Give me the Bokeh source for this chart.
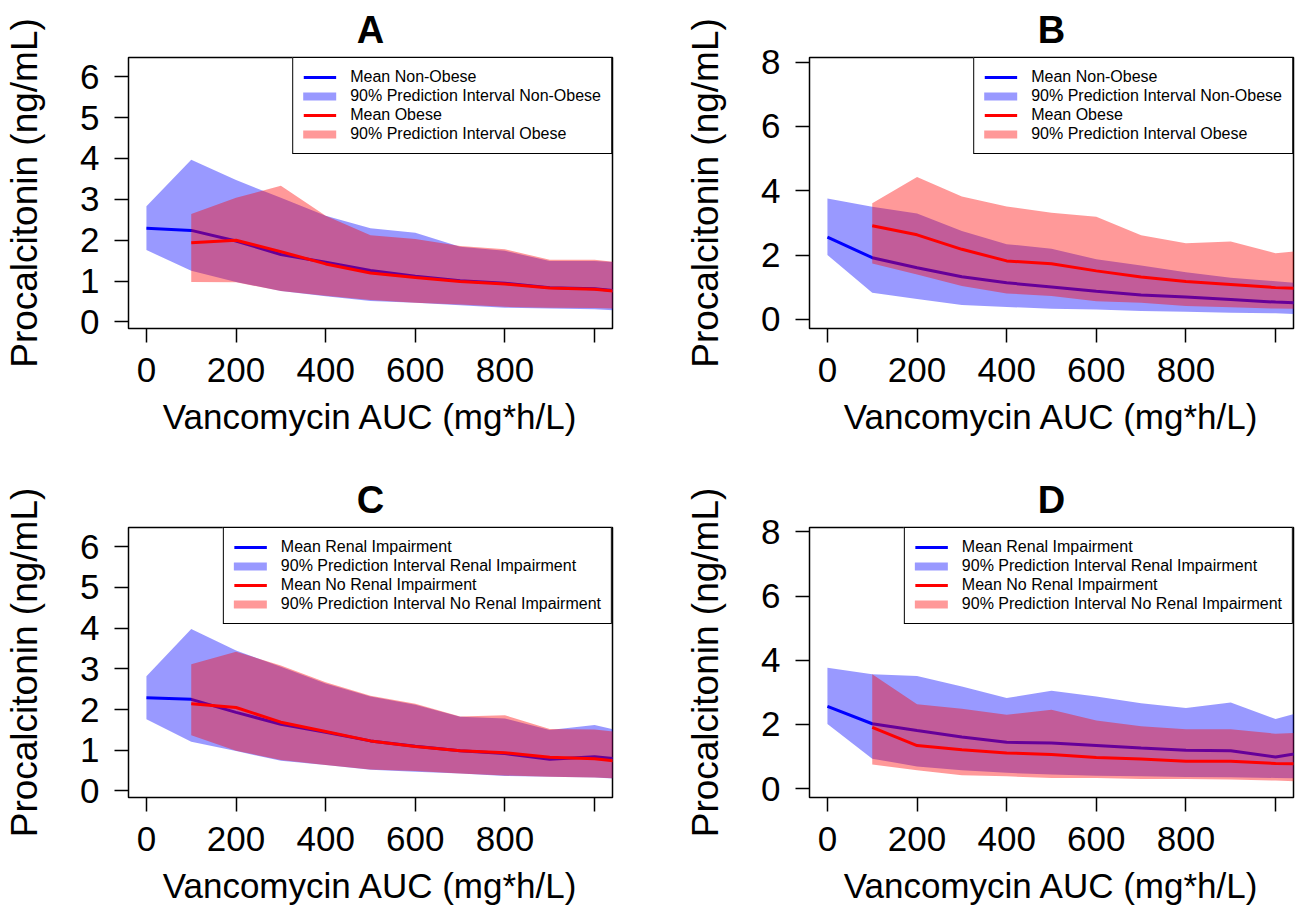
from bokeh.plotting import figure
from bokeh.layouts import column, row
from bokeh.models import Range1d, FixedTicker, Legend, LegendItem
from bokeh.embed import file_html
from bokeh.resources import INLINE

FONT = "Liberation Sans"
NAN = float("nan")

# ---------------- data ----------------
x_first = [0, 100, 200, 300, 400, 500, 600, 700, 800, 900, 1000, 1100]
x_second = [100, 200, 300, 400, 500, 600, 700, 800, 900, 1000, 1100]
x_ticks = [0, 200, 400, 600, 800, 1000]
y_ticks_ac = [0, 1, 2, 3, 4, 5, 6]
y_ticks_bd = [0, 2, 4, 6, 8]

# Panel A
a_mean_non = [2.29, 2.24, 1.98, 1.65, 1.46, 1.26, 1.12, 1.01, 0.95, 0.84, 0.81, 0.71]
a_lo_non = [1.76, 1.25, 0.98, 0.76, 0.63, 0.51, 0.47, 0.41, 0.35, 0.33, 0.31, 0.26]
a_hi_non = [2.83, 3.97, 3.47, 3.04, 2.60, 2.29, 2.18, 1.84, 1.74, 1.49, 1.49, 1.44]
a_mean_ob = [1.94, 2.00, 1.72, 1.42, 1.20, 1.09, 0.99, 0.93, 0.83, 0.80, 0.70]
a_lo_ob = [0.98, 0.97, 0.76, 0.64, 0.54, 0.47, 0.43, 0.37, 0.35, 0.34, 0.31]
a_hi_ob = [2.64, 3.04, 3.33, 2.60, 2.12, 2.03, 1.86, 1.78, 1.52, 1.52, 1.40]

# Panel B
b_mean_non = [2.56, 1.92, 1.61, 1.33, 1.14, 1.01, 0.88, 0.76, 0.70, 0.62, 0.54, 0.49]
b_lo_non = [2.00, 0.83, 0.64, 0.45, 0.39, 0.33, 0.31, 0.26, 0.24, 0.21, 0.19, 0.14]
b_hi_non = [3.76, 3.50, 3.29, 2.75, 2.34, 2.20, 1.87, 1.68, 1.47, 1.30, 1.19, 1.07]
b_mean_ob = [2.91, 2.63, 2.18, 1.82, 1.73, 1.51, 1.32, 1.18, 1.09, 0.99, 0.94]
b_lo_ob = [1.74, 1.40, 1.04, 0.81, 0.73, 0.57, 0.52, 0.42, 0.38, 0.34, 0.32]
b_hi_ob = [3.61, 4.43, 3.82, 3.51, 3.32, 3.19, 2.62, 2.37, 2.42, 2.06, 2.18]

# Panel C
c_mean_ri = [2.29, 2.25, 1.93, 1.64, 1.44, 1.23, 1.10, 0.99, 0.92, 0.78, 0.84, 0.74]
c_lo_ri = [1.76, 1.21, 0.98, 0.74, 0.64, 0.52, 0.47, 0.43, 0.37, 0.35, 0.33, 0.28]
c_hi_ri = [2.82, 3.98, 3.45, 3.05, 2.64, 2.32, 2.12, 1.82, 1.78, 1.50, 1.62, 1.36]
c_mean_nri = [2.14, 2.05, 1.69, 1.46, 1.23, 1.09, 0.99, 0.94, 0.83, 0.79, 0.67]
c_lo_nri = [1.37, 0.99, 0.76, 0.64, 0.53, 0.49, 0.43, 0.38, 0.35, 0.33, 0.29]
c_hi_nri = [3.11, 3.42, 3.08, 2.67, 2.34, 2.14, 1.83, 1.86, 1.52, 1.51, 1.39]

# Panel D
d_mean_ri = [2.56, 2.02, 1.81, 1.61, 1.44, 1.42, 1.34, 1.26, 1.19, 1.18, 0.98, 1.22]
d_lo_ri = [2.01, 0.93, 0.69, 0.57, 0.49, 0.44, 0.40, 0.38, 0.36, 0.35, 0.33, 0.31]
d_hi_ri = [3.77, 3.56, 3.51, 3.18, 2.82, 3.05, 2.87, 2.66, 2.51, 2.68, 2.17, 2.55]
d_mean_nri = [1.91, 1.34, 1.21, 1.11, 1.06, 0.97, 0.92, 0.85, 0.85, 0.78, 0.76]
d_lo_nri = [0.75, 0.57, 0.41, 0.38, 0.33, 0.33, 0.30, 0.30, 0.28, 0.25, 0.20]
d_hi_nri = [3.56, 2.63, 2.49, 2.30, 2.46, 2.12, 1.94, 1.85, 1.85, 1.71, 1.76]

labels_obese = ["Mean Non-Obese", "90% Prediction Interval Non-Obese",
                "Mean Obese", "90% Prediction Interval Obese"]
labels_renal = ["Mean Renal Impairment", "90% Prediction Interval Renal Impairment",
                "Mean No Renal Impairment", "90% Prediction Interval No Renal Impairment"]

BLUE = "#0000FF"
RED = "#FF0000"


def panel(title, m1, lo1, hi1, m2, lo2, hi2, labels, yrange, yticks,
          frame_h, b_left, b_right, b_top, b_bottom):
    p = figure(frame_width=484, frame_height=frame_h,
               min_border_left=b_left, min_border_right=b_right,
               min_border_top=b_top, min_border_bottom=b_bottom,
               x_range=Range1d(-40, 1040), y_range=Range1d(*yrange),
               output_backend="svg", toolbar_location=None, tools="")
    p.background_fill_color = "white"
    p.border_fill_color = "white"
    p.outline_line_color = "black"
    p.outline_line_width = 1.5
    p.grid.visible = False

    p.title.text = title
    p.title.align = "center"
    p.title.text_font = FONT
    p.title.text_font_size = "38px"
    p.title.text_font_style = "bold"
    p.title.text_color = "black"
    p.title.standoff = 13

    # first group (blue)
    p.varea(x=x_first, y1=lo1, y2=hi1, fill_color=BLUE, fill_alpha=0.4)
    l1 = p.line(x_first, m1, line_color=BLUE, line_width=3)
    # second group (red)
    p.varea(x=x_second, y1=lo2, y2=hi2, fill_color=RED, fill_alpha=0.4)
    l2 = p.line(x_second, m2, line_color=RED, line_width=3)

    # legend-only swatches for the interval bands (thick translucent lines)
    d1 = p.line([NAN, NAN], [NAN, NAN], line_color=BLUE, line_alpha=0.4,
                line_width=8, line_cap="round")
    d2 = p.line([NAN, NAN], [NAN, NAN], line_color=RED, line_alpha=0.4,
                line_width=8, line_cap="round")

    leg = Legend(items=[LegendItem(label=labels[0], renderers=[l1]),
                        LegendItem(label=labels[1], renderers=[d1]),
                        LegendItem(label=labels[2], renderers=[l2]),
                        LegendItem(label=labels[3], renderers=[d2])],
                 location="top_right", margin=0, padding=10, spacing=1,
                 glyph_width=33, glyph_height=16, label_height=16,
                 label_standoff=14, label_text_font=FONT,
                 label_text_font_size="16px", label_text_color="black",
                 border_line_color="black", border_line_width=1.5,
                 border_line_alpha=1.0,
                 background_fill_color="white", background_fill_alpha=1.0)
    p.add_layout(leg)

    for ax in (p.xaxis[0], p.yaxis[0]):
        ax.axis_line_color = None
        ax.major_tick_in = 0
        ax.major_tick_out = 14
        ax.major_tick_line_color = "black"
        ax.major_tick_line_width = 1.5
        ax.minor_tick_line_color = None
        ax.major_label_text_font = FONT
        ax.major_label_text_font_size = "35px"
        ax.major_label_text_color = "black"
        ax.axis_label_text_font = FONT
        ax.axis_label_text_font_style = "normal"
        ax.axis_label_text_color = "black"

    p.xaxis.ticker = FixedTicker(ticks=x_ticks)
    p.xaxis.major_label_overrides = {1000: ""}
    p.xaxis.axis_label = "Vancomycin AUC (mg*h/L)"
    p.xaxis.axis_label_text_font_size = "35px"
    p.xaxis.major_label_standoff = 15
    p.xaxis.axis_label_standoff = 12

    p.yaxis.ticker = FixedTicker(ticks=yticks)
    p.yaxis.axis_label = "Procalcitonin (ng/mL)"
    p.yaxis.axis_label_text_font_size = "37px"
    p.yaxis.major_label_orientation = "horizontal"
    p.yaxis.major_label_standoff = 15
    p.yaxis.axis_label_standoff = 32
    return p


# top row: frames at y 55..326, bottom row: frames at y 524..794
pA = panel("A", a_mean_non, a_lo_non, a_hi_non, a_mean_ob, a_lo_ob, a_hi_ob,
           labels_obese, (-0.16, 6.47), y_ticks_ac, 271, 128, 44, 55, 142)
pB = panel("B", b_mean_non, b_lo_non, b_hi_non, b_mean_ob, b_lo_ob, b_hi_ob,
           labels_obese, (-0.28, 8.14), y_ticks_bd, 271, 153, 3, 55, 142)
pC = panel("C", c_mean_ri, c_lo_ri, c_hi_ri, c_mean_nri, c_lo_nri, c_hi_nri,
           labels_renal, (-0.16, 6.47), y_ticks_ac, 270, 128, 44, 56, 114)
pD = panel("D", d_mean_ri, d_lo_ri, d_hi_ri, d_mean_nri, d_lo_nri, d_hi_nri,
           labels_renal, (-0.28, 8.14), y_ticks_bd, 270, 153, 3, 56, 114)

layout = column(row(pA, pB), row(pC, pD))
open("out.html", "w").write(file_html(layout, INLINE))
